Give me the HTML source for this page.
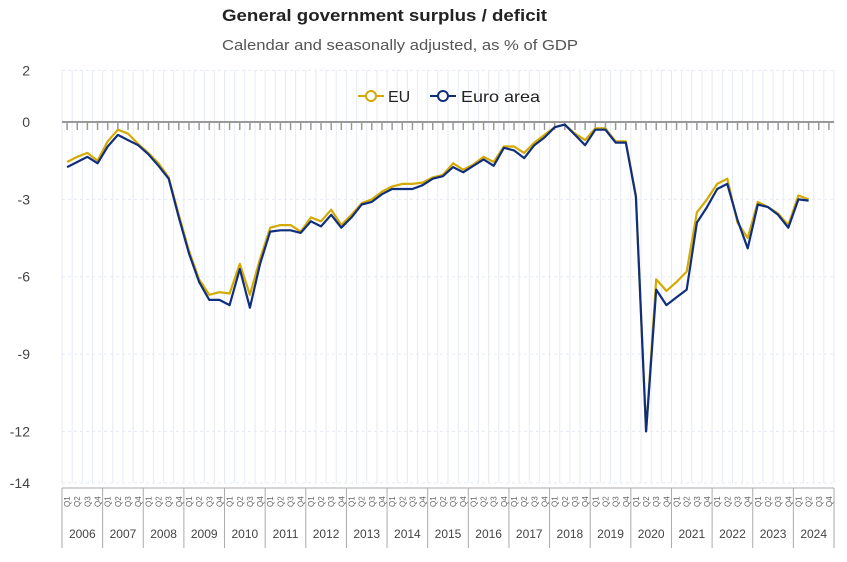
<!DOCTYPE html>
<html><head><meta charset="utf-8"><style>
body{margin:0;background:#fff;font-family:"Liberation Sans",sans-serif}
svg text{font-family:"Liberation Sans",sans-serif}
</style></head><body>
<svg id="c" width="847" height="557">
<text x="222" y="21" font-size="17" font-weight="bold" fill="#222" textLength="325" lengthAdjust="spacingAndGlyphs">General government surplus / deficit</text>
<text x="222" y="50" font-size="15" fill="#555" textLength="356" lengthAdjust="spacingAndGlyphs">Calendar and seasonally adjusted, as % of GDP</text>
<g id="grid"></g><g id="axes"></g><g id="lines"></g>
<g>
<g><line x1="358" y1="96" x2="384" y2="96" stroke="#d4a900" stroke-width="2"/><circle cx="371" cy="96" r="5" fill="#fff" stroke="#d4a900" stroke-width="2"/><text x="388" y="102" font-size="16" fill="#222">EU</text></g>
<g><line x1="430" y1="96" x2="456" y2="96" stroke="#0f2f7e" stroke-width="2"/><circle cx="443" cy="96" r="5" fill="#fff" stroke="#0f2f7e" stroke-width="2"/><text x="461" y="102" font-size="16" fill="#222" textLength="79" lengthAdjust="spacingAndGlyphs">Euro area</text></g>
</g>
</svg>
<script>
const years=[2006,2007,2008,2009,2010,2011,2012,2013,2014,2015,2016,2017,2018,2019,2020,2021,2022,2023,2024];
const yTicks=[2,0,-3,-6,-9,-12,-14];
const euValues=[-1.55,-1.35,-1.2,-1.5,-0.75,-0.3,-0.45,-0.85,-1.2,-1.6,-2.15,-3.6,-5.0,-6.1,-6.7,-6.6,-6.65,-5.5,-6.7,-5.3,-4.1,-4.0,-4.0,-4.25,-3.7,-3.85,-3.4,-4.0,-3.6,-3.15,-3.0,-2.7,-2.5,-2.4,-2.4,-2.35,-2.15,-2.05,-1.6,-1.85,-1.65,-1.35,-1.55,-0.95,-0.95,-1.2,-0.8,-0.5,-0.2,-0.1,-0.45,-0.7,-0.25,-0.25,-0.75,-0.75,-2.85,-12.0,-6.1,-6.55,-6.2,-5.8,-3.5,-3.0,-2.4,-2.2,-3.9,-4.5,-3.1,-3.3,-3.55,-4.0,-2.85,-3.0];
const euroAreaValues=[-1.75,-1.55,-1.35,-1.6,-0.95,-0.5,-0.7,-0.9,-1.25,-1.7,-2.2,-3.7,-5.1,-6.2,-6.9,-6.9,-7.1,-5.7,-7.2,-5.5,-4.25,-4.2,-4.2,-4.3,-3.85,-4.05,-3.6,-4.1,-3.7,-3.2,-3.1,-2.8,-2.6,-2.6,-2.6,-2.45,-2.2,-2.1,-1.75,-1.95,-1.7,-1.45,-1.7,-1.0,-1.1,-1.4,-0.9,-0.6,-0.2,-0.1,-0.5,-0.9,-0.3,-0.3,-0.8,-0.8,-2.9,-12.0,-6.5,-7.1,-6.8,-6.5,-3.9,-3.3,-2.6,-2.4,-3.8,-4.9,-3.2,-3.3,-3.6,-4.1,-3.0,-3.05];
const NS="http://www.w3.org/2000/svg";
const L=62,R=834,T=70,B=483;
const nQ=years.length*4, qw=(R-L)/nQ;
const x=i=>L+qw*(i+0.5);
const y=v=>122-(v)*(B-122)/14;
function mk(tag,attrs,parent,txt){const e=document.createElementNS(NS,tag);for(const k in attrs)e.setAttribute(k,attrs[k]);if(txt!==undefined)e.textContent=txt;parent.appendChild(e);return e;}
const grid=document.getElementById('grid'),axes=document.getElementById('axes'),lines=document.getElementById('lines');
for(let i=0;i<=nQ;i++){const gx=L+qw*i;const g=mk('line',{x1:gx,x2:gx,y1:T,y2:B,stroke:'#e6eaf4','stroke-width':1},grid);

}
yTicks.forEach(t=>{const g=mk('line',{x1:L,x2:R,y1:y(t),y2:y(t),stroke:t===0?'#999':'#e6eaf4','stroke-width':t===0?2:1,'stroke-dasharray':t===0?'':'3,3'},grid);


const lb=mk('text',{x:30,y:y(t)+5,'text-anchor':'end','font-size':14,fill:'#444'},axes,String(t));

});
for(let i=0;i<nQ;i++){const tk=mk('line',{x1:x(i),x2:x(i),y1:123,y2:130,stroke:'#999','stroke-width':1.5},axes);

}
mk('line',{x1:L,x2:R,y1:488,y2:488,stroke:'#aaa'},axes);
for(let i=0;i<nQ;i++){const q=mk('text',{transform:`translate(${x(i)+3},${507}) rotate(-90)`,'font-size':8,fill:'#666'},axes,'Q'+(i%4+1));

}
years.forEach((yr,k)=>{const sx=L+qw*4*k;mk('line',{x1:sx,x2:sx,y1:488,y2:548,stroke:'#aaa'},axes);
const t=mk('text',{x:sx+qw*2,y:538,'text-anchor':'middle','font-size':12,fill:'#444'},axes,String(yr));

});
mk('line',{x1:R,x2:R,y1:488,y2:548,stroke:'#aaa'},axes);
function path(vals,color,name){const d=vals.map((v,i)=>(i?'L':'M')+x(i).toFixed(1)+','+y(v).toFixed(1)).join('');
const p=mk('path',{d:d,fill:'none',stroke:color,'stroke-width':2.2,'stroke-linejoin':'round'},lines);

}
path(euValues,'#d4a900','eu-line');
path(euroAreaValues,'#0f2f7e','euro-area-line');
</script>
</body></html>
